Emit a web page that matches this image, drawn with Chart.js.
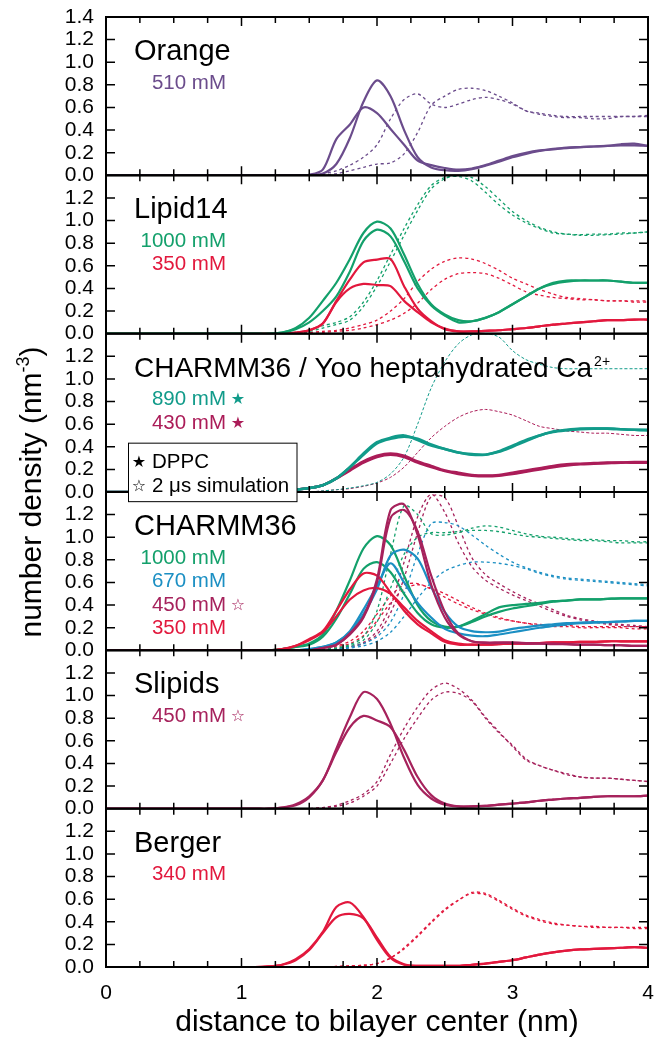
<!DOCTYPE html>
<html lang="en">
<head>
  <meta charset="utf-8"/>
  <title>Ca2+ number density profiles</title>
  <script src="https://cdn.jsdelivr.net/npm/chart.js"></script>
  <style>
    body{margin:0;background:#fff}
    #wrap{width:655px;height:1038px}
  </style>
</head>
<body>
<div id="wrap"><canvas id="densityChart" width="655" height="1038"></canvas></div>

<script>
// shared x grid (nm); index 0 is the bilayer center
const distance=[0,1.1,1.2,1.3,1.4,1.5,1.6,1.7,1.8,1.9,2.0,2.1,2.2,2.3,2.4,2.5,2.6,2.7,2.8,2.9,3.0,3.1,3.2,3.3,3.4,3.5,3.6,3.7,3.8,3.9,4.0];

// Orange
const orangeSolidA=[0, 0,0,0,0, 0,0.015,0.10,0.33,0.65, 0.84,0.70,0.40,0.16,0.07, 0.045,0.04,0.055,0.085,0.12, 0.16,0.19,0.215,0.235,0.24, 0.25,0.255,0.26,0.275,0.28, 0.26];
const orangeSolidB=[0, 0,0,0,0, 0.005,0.05,0.32,0.45,0.60, 0.55,0.41,0.27,0.13,0.09, 0.065,0.05,0.06,0.09,0.13, 0.17,0.20,0.22,0.23,0.245, 0.25,0.255,0.26,0.265,0.265, 0.26];
const orangeDashA=[0, 0,0,0,0, 0.005,0.015,0.04,0.09,0.16, 0.27,0.50,0.67,0.72,0.63, 0.60,0.63,0.67,0.69,0.67, 0.63,0.57,0.55,0.53,0.52, 0.52,0.52,0.52,0.52,0.52, 0.52];
const orangeDashB=[0, 0,0,0,0, 0,0.005,0.015,0.04,0.07, 0.10,0.11,0.19,0.38,0.62, 0.70,0.76,0.77,0.75,0.70, 0.64,0.57,0.54,0.52,0.51, 0.51,0.50,0.50,0.52,0.52, 0.53];

// Lipid14
const lipidGreenA=[0, 0,0,0.01,0.05, 0.14,0.29,0.45,0.66,0.89, 0.99,0.93,0.70,0.44,0.26, 0.17,0.12,0.11,0.14,0.19, 0.26,0.33,0.40,0.45,0.47, 0.47,0.47,0.47,0.46,0.45, 0.45];
const lipidGreenB=[0, 0,0,0.01,0.04, 0.10,0.20,0.33,0.55,0.82, 0.92,0.86,0.64,0.40,0.25, 0.16,0.10,0.11,0.14,0.19, 0.26,0.33,0.40,0.44,0.46, 0.47,0.47,0.47,0.46,0.45, 0.45];
const lipidRedA=[0, 0,0,0,0.01, 0.03,0.09,0.29,0.48,0.63, 0.655,0.66,0.42,0.22,0.11, 0.04,0.02,0.02,0.025,0.03, 0.04,0.05,0.065,0.08,0.09, 0.10,0.11,0.12,0.12,0.125, 0.125];
const lipidRedB=[0, 0,0,0,0.01, 0.03,0.09,0.28,0.40,0.44, 0.43,0.42,0.29,0.19,0.10, 0.045,0.02,0.02,0.025,0.03, 0.04,0.05,0.065,0.08,0.09, 0.10,0.11,0.12,0.12,0.125, 0.125];
const lipidGreenDashA=[0, 0,0,0,0.01, 0.03,0.07,0.10,0.15,0.28, 0.47,0.70,0.93,1.14,1.31, 1.38,1.39,1.35,1.25,1.14, 1.05,0.98,0.93,0.89,0.88, 0.875,0.88,0.88,0.89,0.89, 0.90];
const lipidGreenDashB=[0, 0,0,0,0.01, 0.02,0.05,0.08,0.12,0.24, 0.42,0.64,0.87,1.09,1.28, 1.37,1.40,1.38,1.30,1.19, 1.08,1.00,0.94,0.90,0.88, 0.87,0.87,0.875,0.88,0.89, 0.90];
const lipidRedDashA=[0, 0,0,0,0, 0.01,0.02,0.03,0.05,0.08, 0.12,0.20,0.31,0.46,0.57, 0.64,0.67,0.66,0.62,0.56, 0.49,0.44,0.39,0.35,0.32, 0.31,0.30,0.29,0.29,0.28, 0.28];
const lipidRedDashB=[0, 0,0,0,0, 0,0.01,0.02,0.03,0.05, 0.08,0.12,0.18,0.27,0.39, 0.48,0.53,0.54,0.53,0.49, 0.43,0.37,0.34,0.32,0.31, 0.30,0.30,0.29,0.29,0.29, 0.29];

// CHARMM36 / Yoo heptahydrated Ca2+
const yooTealA=[0, 0,0.005,0.01,0.02, 0.035,0.06,0.12,0.22,0.34, 0.44,0.48,0.50,0.46,0.41, 0.38,0.35,0.335,0.33,0.36, 0.41,0.46,0.50,0.535,0.55, 0.56,0.56,0.56,0.555,0.55, 0.55];
const yooTealB=[0, 0,0.005,0.01,0.02, 0.035,0.06,0.12,0.22,0.33, 0.43,0.47,0.49,0.47,0.42, 0.38,0.35,0.33,0.33,0.355, 0.40,0.45,0.50,0.53,0.545, 0.555,0.56,0.56,0.555,0.55, 0.545];
const yooCrimsonA=[0, 0,0.005,0.01,0.02, 0.035,0.06,0.12,0.20,0.27, 0.32,0.34,0.32,0.27,0.23, 0.19,0.17,0.15,0.145,0.15, 0.17,0.19,0.21,0.23,0.245, 0.25,0.255,0.26,0.26,0.265, 0.265];
const yooCrimsonB=[0, 0,0.005,0.01,0.02, 0.035,0.06,0.12,0.19,0.26, 0.31,0.33,0.31,0.26,0.22, 0.185,0.16,0.145,0.14,0.145, 0.16,0.18,0.20,0.22,0.235, 0.245,0.25,0.255,0.26,0.26, 0.26];
const yooTealDash=[0, 0,0,0,0, 0,0.01,0.02,0.035,0.055, 0.085,0.16,0.31,0.60,0.92, 1.15,1.31,1.39,1.40,1.37, 1.25,1.17,1.13,1.10,1.09, 1.09,1.09,1.09,1.09,1.09, 1.09];
const yooCrimsonDash=[0, 0,0,0,0, 0,0.01,0.02,0.03,0.05, 0.08,0.13,0.22,0.35,0.48, 0.58,0.66,0.71,0.73,0.71, 0.68,0.63,0.58,0.56,0.54, 0.53,0.52,0.52,0.51,0.50, 0.50];

// CHARMM36
const c36GreenA=[0, 0,0,0.01,0.03, 0.06,0.14,0.35,0.62,0.90, 1.01,0.93,0.66,0.40,0.26, 0.21,0.21,0.26,0.32,0.38, 0.40,0.41,0.42,0.435,0.44, 0.45,0.45,0.455,0.46,0.46, 0.46];
const c36GreenB=[0, 0,0,0.01,0.03, 0.05,0.12,0.28,0.50,0.72, 0.78,0.69,0.50,0.33,0.23, 0.20,0.21,0.25,0.30,0.34, 0.37,0.39,0.41,0.43,0.44, 0.45,0.45,0.455,0.46,0.46, 0.46];
const c36BlueA=[0, 0,0,0,0, 0.01,0.03,0.07,0.16,0.32, 0.54,0.84,0.89,0.81,0.56, 0.34,0.21,0.17,0.16,0.165, 0.19,0.205,0.22,0.23,0.24, 0.245,0.25,0.25,0.255,0.26, 0.26];
const c36BlueB=[0, 0,0,0,0, 0.01,0.03,0.07,0.17,0.36, 0.57,0.77,0.60,0.42,0.29, 0.19,0.15,0.13,0.125,0.14, 0.16,0.18,0.20,0.215,0.23, 0.24,0.245,0.25,0.255,0.26, 0.26];
const c36MagentaA=[0, 0,0,0,0, 0,0.02,0.05,0.15,0.30, 0.63,1.24,1.29,1.02,0.58, 0.29,0.14,0.08,0.07,0.07, 0.07,0.065,0.06,0.06,0.055, 0.05,0.05,0.045,0.045,0.04, 0.04];
const c36MagentaB=[0, 0,0,0,0, 0,0.02,0.05,0.14,0.29, 0.60,1.17,1.24,1.05,0.66, 0.34,0.15,0.08,0.065,0.065, 0.065,0.06,0.06,0.055,0.055, 0.05,0.05,0.045,0.045,0.04, 0.04];
const c36RedA=[0, 0,0,0.01,0.04, 0.10,0.17,0.35,0.54,0.68, 0.66,0.51,0.35,0.23,0.15, 0.075,0.05,0.05,0.05,0.055, 0.06,0.06,0.065,0.07,0.07, 0.075,0.075,0.08,0.08,0.08, 0.08];
const c36RedB=[0, 0,0,0.01,0.04, 0.09,0.16,0.30,0.45,0.53, 0.55,0.50,0.38,0.26,0.17, 0.09,0.06,0.05,0.05,0.055, 0.06,0.06,0.065,0.07,0.07, 0.075,0.075,0.08,0.08,0.08, 0.08];
const c36GreenDashA=[0, 0,0,0,0, 0,0.01,0.02,0.05,0.12, 0.35,0.85,1.28,1.20,1.03, 1.02,1.04,1.08,1.10,1.09, 1.06,1.03,1.01,1.00,0.99, 0.98,0.98,0.97,0.97,0.96, 0.96];
const c36GreenDashB=[0, 0,0,0,0, 0,0.01,0.02,0.04,0.09, 0.25,0.55,0.85,1.00,1.04, 1.04,1.05,1.06,1.06,1.05, 1.03,1.01,1.00,0.99,0.98, 0.97,0.97,0.96,0.95,0.95, 0.95];
const c36BlueDashA=[0, 0,0,0,0, 0,0,0.01,0.03,0.06, 0.12,0.25,0.50,0.85,1.12, 1.13,1.10,1.02,0.93,0.85, 0.78,0.73,0.69,0.66,0.64, 0.63,0.62,0.61,0.60,0.59, 0.58];
const c36BlueDashB=[0, 0,0,0,0, 0,0,0.01,0.02,0.04, 0.08,0.16,0.30,0.46,0.60, 0.70,0.75,0.78,0.78,0.77, 0.75,0.72,0.68,0.65,0.63, 0.62,0.61,0.60,0.59,0.58, 0.57];
const c36MagentaDashA=[0, 0,0,0,0, 0,0,0.01,0.03,0.06, 0.14,0.33,0.64,1.04,1.36, 1.35,1.10,0.82,0.67,0.59, 0.52,0.46,0.41,0.36,0.31, 0.28,0.26,0.24,0.23,0.22, 0.21];
const c36MagentaDashB=[0, 0,0,0,0, 0,0,0.01,0.03,0.07, 0.17,0.40,0.78,1.18,1.38, 1.22,0.95,0.74,0.62,0.55, 0.49,0.44,0.39,0.34,0.30, 0.27,0.25,0.23,0.22,0.21, 0.21];
const c36RedDashA=[0, 0,0,0,0, 0.01,0.02,0.04,0.08,0.17, 0.32,0.48,0.58,0.59,0.54, 0.47,0.41,0.36,0.32,0.28, 0.26,0.24,0.23,0.22,0.22, 0.21,0.21,0.21,0.21,0.21, 0.21];
const c36RedDashB=[0, 0,0,0,0, 0.01,0.02,0.03,0.06,0.13, 0.26,0.42,0.54,0.58,0.55, 0.50,0.44,0.38,0.33,0.29, 0.26,0.24,0.22,0.21,0.21, 0.20,0.20,0.20,0.20,0.19, 0.19];

// Slipids
const slipidsA=[0, 0,0,0.01,0.04, 0.11,0.25,0.53,0.81,1.03, 0.97,0.75,0.45,0.21,0.09, 0.035,0.02,0.02,0.025,0.035, 0.045,0.055,0.07,0.08,0.09, 0.095,0.105,0.11,0.11,0.11, 0.115];
const slipidsB=[0, 0,0,0.01,0.03, 0.10,0.25,0.50,0.72,0.82, 0.78,0.72,0.52,0.28,0.12, 0.045,0.02,0.02,0.025,0.035, 0.045,0.055,0.07,0.08,0.09, 0.095,0.105,0.11,0.11,0.11, 0.115];
const slipidsDashA=[0, 0,0,0,0, 0,0.01,0.03,0.07,0.13, 0.24,0.48,0.71,0.90,1.05, 1.11,1.06,0.96,0.81,0.68, 0.55,0.43,0.38,0.34,0.30, 0.28,0.27,0.27,0.26,0.25, 0.24];
const slipidsDashB=[0, 0,0,0,0, 0,0.01,0.02,0.05,0.11, 0.20,0.40,0.62,0.80,0.96, 1.03,1.02,0.95,0.80,0.67, 0.56,0.44,0.38,0.34,0.31, 0.28,0.27,0.27,0.26,0.25, 0.24];

// Berger
const bergerA=[0, 0,0.005,0.02,0.07, 0.16,0.31,0.53,0.57,0.44, 0.24,0.08,0.02,0.01,0.01, 0.01,0.01,0.02,0.03,0.045, 0.06,0.085,0.11,0.13,0.145, 0.155,0.16,0.165,0.17,0.175, 0.17];
const bergerB=[0, 0,0.005,0.02,0.06, 0.15,0.30,0.44,0.47,0.43, 0.26,0.09,0.025,0.01,0.01, 0.01,0.01,0.02,0.03,0.045, 0.06,0.085,0.11,0.13,0.145, 0.155,0.16,0.165,0.17,0.175, 0.17];
const bergerDashA=[0, 0,0,0,0, 0,0,0.005,0.01,0.015, 0.03,0.08,0.17,0.28,0.40, 0.51,0.59,0.65,0.64,0.58, 0.51,0.45,0.41,0.38,0.37, 0.36,0.35,0.35,0.35,0.34, 0.34];
const bergerDashB=[0, 0,0,0,0, 0,0,0.005,0.01,0.015, 0.03,0.08,0.16,0.27,0.39, 0.50,0.59,0.66,0.65,0.59, 0.52,0.46,0.42,0.39,0.37, 0.36,0.36,0.35,0.35,0.35, 0.35];

const yTicks=[0,0.2,0.4,0.6,0.8,1.0,1.2,1.4];
const xTickLabels=[0,1,2,3,4];

const PURPLE='#6b4c8c',GREEN='#13a06b',RED='#e2183d',TEAL='#119b8a',CRIMSON='#ab1c58',BLUE='#1b8fc3',MAGENTA='#a6225c';
const FONT='"Liberation Sans", Arial, Helvetica, sans-serif';
const STARFONT='"DejaVu Sans", sans-serif';

const panelIds=['yOrange','yLipid','yYoo','yC36','ySlipids','yBerger'];
const panelTitles=['Orange','Lipid14','CHARMM36 / Yoo heptahydrated Ca','CHARMM36','Slipids','Berger'];
// [text, color, star]  star: 0 none, 1 filled, 2 open
const panelLabels=[
  [['510 mM',PURPLE,0]],
  [['1000 mM',GREEN,0],['350 mM',RED,0]],
  [['890 mM',TEAL,1],['430 mM',CRIMSON,1]],
  [['1000 mM',GREEN,0],['670 mM',BLUE,0],['450 mM',MAGENTA,2],['350 mM',RED,0]],
  [['450 mM',MAGENTA,2]],
  [['340 mM',RED,0]]
];

function curve(values,axis,color,dashed,width){
  return {
    data:distance.map((x,i)=>({x:x,y:values[i]})),
    yAxisID:axis,
    borderColor:color,
    borderWidth:width||(dashed?1.3:2.2),
    borderDash:dashed?[3,3]:[],
    pointRadius:0,
    tension:0.3,
    fill:false
  };
}

const datasets=[
  curve(orangeSolidA,'yOrange',PURPLE),curve(orangeSolidB,'yOrange',PURPLE),
  curve(orangeDashA,'yOrange',PURPLE,true),curve(orangeDashB,'yOrange',PURPLE,true),

  curve(lipidGreenA,'yLipid',GREEN),curve(lipidGreenB,'yLipid',GREEN),
  curve(lipidRedA,'yLipid',RED),curve(lipidRedB,'yLipid',RED),
  curve(lipidGreenDashA,'yLipid',GREEN,true),curve(lipidGreenDashB,'yLipid',GREEN,true),
  curve(lipidRedDashA,'yLipid',RED,true),curve(lipidRedDashB,'yLipid',RED,true),

  curve(yooTealA,'yYoo',TEAL,false,2.6),curve(yooTealB,'yYoo',TEAL,false,2.6),
  curve(yooCrimsonA,'yYoo',CRIMSON,false,2.6),curve(yooCrimsonB,'yYoo',CRIMSON,false,2.6),
  Object.assign(curve(yooTealDash,'yYoo',TEAL,true,1),{borderDash:[3,2]}),
  Object.assign(curve(yooCrimsonDash,'yYoo',CRIMSON,true,1),{borderDash:[3,2]}),

  curve(c36MagentaA,'yC36',MAGENTA),curve(c36MagentaB,'yC36',MAGENTA),
  curve(c36RedA,'yC36',RED),curve(c36RedB,'yC36',RED),
  curve(c36BlueA,'yC36',BLUE),curve(c36BlueB,'yC36',BLUE),
  curve(c36GreenA,'yC36',GREEN),curve(c36GreenB,'yC36',GREEN),
  curve(c36GreenDashA,'yC36',GREEN,true),curve(c36GreenDashB,'yC36',GREEN,true),
  curve(c36BlueDashA,'yC36',BLUE,true),curve(c36BlueDashB,'yC36',BLUE,true),
  curve(c36MagentaDashA,'yC36',MAGENTA,true),curve(c36MagentaDashB,'yC36',MAGENTA,true),
  curve(c36RedDashA,'yC36',RED,true),curve(c36RedDashB,'yC36',RED,true),

  curve(slipidsA,'ySlipids',MAGENTA),curve(slipidsB,'ySlipids',MAGENTA),
  curve(slipidsDashA,'ySlipids',MAGENTA,true),curve(slipidsDashB,'ySlipids',MAGENTA,true),

  curve(bergerA,'yBerger',RED),curve(bergerB,'yBerger',RED),
  curve(bergerDashA,'yBerger',RED,true),curve(bergerDashB,'yBerger',RED,true)
];

// frame, inward ticks and in-panel text
const panelDecor={
  id:'panelDecor',
  afterDatasetsDraw(chart){
    const {ctx,chartArea:area,scales}=chart;
    const xs=scales.x;
    ctx.save();
    ctx.strokeStyle='#000';
    panelIds.forEach(id=>{
      const ys=scales[id];
      ctx.lineWidth=1.5;
      ctx.beginPath();
      yTicks.slice(1,-1).forEach(v=>{
        const py=ys.getPixelForValue(v);
        ctx.moveTo(area.left,py);ctx.lineTo(area.left+9,py);
        ctx.moveTo(area.right,py);ctx.lineTo(area.right-9,py);
      });
      for(let k=1;k<16;k++){
        const px=xs.getPixelForValue(k*0.25),len=k%4===0?9:6;
        ctx.moveTo(px,ys.top);ctx.lineTo(px,ys.top+len);
        ctx.moveTo(px,ys.bottom);ctx.lineTo(px,ys.bottom-len);
      }
      ctx.stroke();
      ctx.lineWidth=2;
      ctx.strokeRect(area.left,ys.top,area.right-area.left,ys.bottom-ys.top);
    });
    ctx.restore();
  },
  afterDraw(chart){
    const {ctx,chartArea:area,scales}=chart;
    ctx.save();
    ctx.textBaseline='alphabetic';
    panelIds.forEach((id,p)=>{
      const top=scales[id].top;
      ctx.fillStyle='#000';
      ctx.textAlign='left';
      ctx.font=(p===2?'28px ':'29px ')+FONT;
      ctx.fillText(panelTitles[p],134,top+43);
      if(p===2){
        const w=ctx.measureText(panelTitles[p]).width;
        ctx.font='14px '+FONT;
        ctx.fillText('2+',134+w+2,top+32);
      }
      panelLabels[p].forEach((lab,i)=>{
        const base=top+71.5+23.5*i;
        ctx.fillStyle=lab[1];
        ctx.textAlign='right';
        ctx.font='20.5px '+FONT;
        ctx.fillText(lab[0],226,base);
        if(lab[2]){
          ctx.textAlign='center';
          ctx.font='16px '+STARFONT;
          ctx.fillText(lab[2]===1?'\u2605':'\u2606',238,base-1);
        }
      });
    });
    // legend box for the star symbols
    const yooTop=scales.yYoo.top;
    ctx.fillStyle='#fff';
    ctx.fillRect(128,yooTop+109,169,59);
    ctx.strokeStyle='#000';ctx.lineWidth=1;
    ctx.strokeRect(128.5,yooTop+109.5,168.5,58.5);
    ctx.fillStyle='#000';
    ctx.textAlign='center';ctx.font='16px '+STARFONT;
    ctx.fillText('\u2605',139,yooTop+133);
    ctx.fillText('\u2606',139,yooTop+157);
    ctx.textAlign='left';ctx.font='20.5px '+FONT;
    ctx.fillText('DPPC',152,yooTop+134);
    ctx.fillText('2 \u03bcs simulation',152,yooTop+158);

    // shared y title
    const main='number density (nm',sup='-3',tail=')';
    ctx.translate(41,(area.top+area.bottom)/2);
    ctx.rotate(-Math.PI/2);
    ctx.font='30px '+FONT;
    const w1=ctx.measureText(main).width,w3=ctx.measureText(tail).width;
    ctx.font='18px '+FONT;
    const w2=ctx.measureText(sup).width;
    let x0=-(w1+w2+w3)/2;
    ctx.textAlign='left';
    ctx.font='30px '+FONT;
    ctx.fillText(main,x0,0);
    ctx.font='18px '+FONT;
    ctx.fillText(sup,x0+w1,-12);
    ctx.font='30px '+FONT;
    ctx.fillText(tail,x0+w1+w2,0);
    ctx.restore();
  }
};

const scales={
  x:{
    type:'linear',position:'bottom',min:0,max:4,
    grid:{display:false,drawTicks:false},border:{display:false},
    ticks:{stepSize:0.25,autoSkip:false,maxRotation:0,padding:14,color:'#000',font:{family:FONT,size:21},
      callback:v=>xTickLabels.includes(v)?String(v):''},
    title:{display:true,text:'distance to bilayer center (nm)',color:'#000',font:{family:FONT,size:30,lineHeight:1.0},padding:{top:0,bottom:0}},
    afterFit:s=>{s.height=71;s.paddingLeft=0;s.paddingRight=0;}
  }
};
panelIds.forEach((id,p)=>{
  scales[id]={
    type:'linear',position:'left',stack:'panels',stackWeight:1,weight:6-p,
    min:0,max:1.4,offset:false,
    grid:{display:false,drawTicks:false},border:{display:false},
    ticks:{stepSize:0.2,autoSkip:false,padding:12,color:'#000',font:{family:FONT,size:21},
      callback:v=>(p===0||Math.abs(v-1.4)>1e-6)?v.toFixed(1):''},
    afterFit:s=>{s.width=106;s.paddingTop=0;s.paddingBottom=0;}
  };
});

new Chart(document.getElementById('densityChart').getContext('2d'),{
  type:'line',
  data:{datasets:datasets},
  options:{
    responsive:false,animation:false,devicePixelRatio:1,
    layout:{padding:{top:17,right:7,left:0,bottom:0}},
    plugins:{legend:{display:false},tooltip:{enabled:false}},
    scales:scales
  },
  plugins:[panelDecor]
});
</script>
</body>
</html>
